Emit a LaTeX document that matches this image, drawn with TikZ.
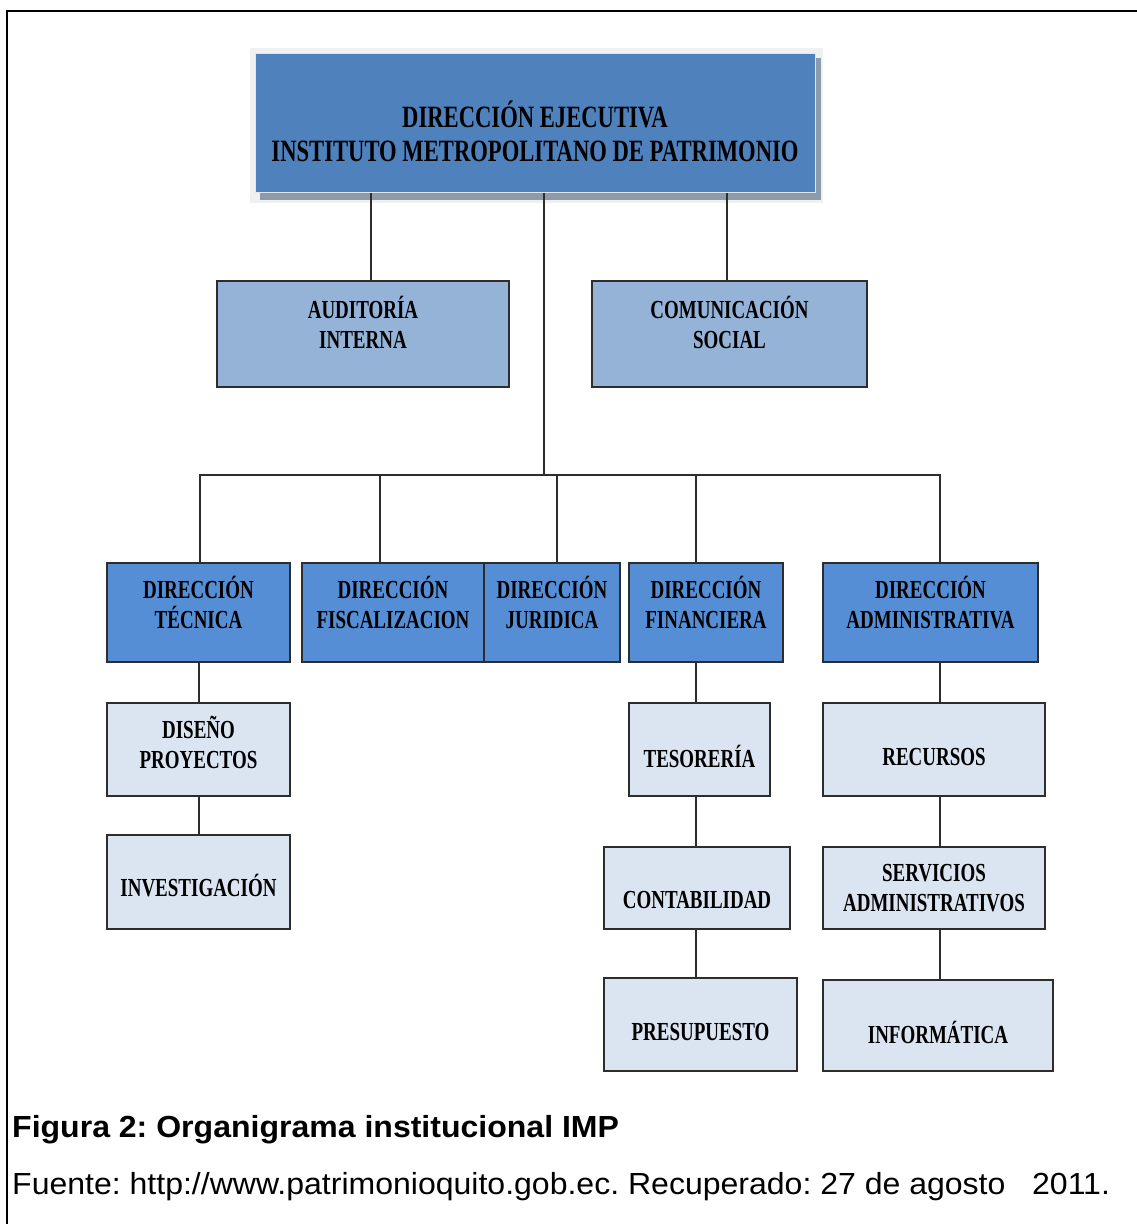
\documentclass[tikz,border=0pt]{standalone}
\usepackage{xcolor}
\usepackage{fontspec}
\usepackage{tikz}
\usetikzlibrary {backgrounds,positioning}
\newfontfamily\boxfont[FakeStretch=0.73]{Liberation Serif}
\newfontfamily\capfont[FakeStretch=1.05]{Liberation Sans}
\definecolor{topblue}{RGB}{79,129,189}
\definecolor{dirblue}{RGB}{85,142,213}
\definecolor{staffblue}{RGB}{149,179,215}
\definecolor{unitblue}{RGB}{219,229,241}
\definecolor{edgegray}{RGB}{45,45,45}
\definecolor{shadowgray}{RGB}{140,155,170}
\newcommand\lift[1]{\rule[-#1pt]{0pt}{0pt}}
\newcommand\sink[1]{\rule{0pt}{#1pt}}

\tikzset{
  orgbox/.style = {draw=edgegray, line width=1.3pt, align=center, inner sep=0pt,
                   font=\boxfont\bfseries\fontsize{26}{30}\selectfont},
  headbox/.style = {fill=topblue, draw=white!80!gray, line width=1pt, align=center,
                    minimum width=560pt, minimum height=139pt,
                    font=\boxfont\bfseries\fontsize{31}{34}\selectfont},
  staffbox/.style = {orgbox, fill=staffblue, minimum height=106pt},
  dirbox/.style = {orgbox, fill=dirblue, minimum height=99pt},
  unitbox/.style = {orgbox, fill=unitblue},
  link/.style = {draw=edgegray, line width=1.3pt},
  captext/.style = {anchor=base west, inner sep=0pt, font=\capfont\frenchspacing\fontsize{30.5}{33}\selectfont}
}

\begin{document}
\begin{tikzpicture}[x=1pt, y=-1pt]
\useasboundingbox (0,0) rectangle (1137,1224);

% frame
\coordinate (fl) at (7,1224);
\coordinate (fc) at (7,11);
\coordinate (fr) at (1137,11);
\draw[line width=1.5pt] (fl) -- (fc) -- (fr);

% head
\node (head) at (535,122.5) [headbox]{\sink{44}DIRECCIÓN EJECUTIVA\\INSTITUTO METROPOLITANO DE PATRIMONIO};
\begin{scope}[on background layer]
  \fill[black!6] ([shift={(-5,-5)}]head.north west) rectangle ([shift={(7,10)}]head.south east);
  \fill[shadowgray] ([shift={(5,0)}]head.south west) rectangle ([shift={(5,7)}]head.south east);
  \fill[shadowgray] ([shift={(0,5)}]head.north east) rectangle ([shift={(5,7)}]head.south east);
\end{scope}

% staff
\node (aud) at (363,334) [staffbox, minimum width=292pt]{AUDITORÍA\\INTERNA\lift{24}};
\node (com) at (729.5,334) [staffbox, minimum width=275pt]{COMUNICACIÓN\\SOCIAL\lift{24}};

% direcciones
\node (tec) at (198.5,612.5) [dirbox, minimum width=183pt]{DIRECCIÓN\\TÉCNICA\lift{20}};
\node (fis) at (393,612.5) [dirbox, minimum width=182pt]{DIRECCIÓN\\FISCALIZACION\lift{20}};
\node (jur) at (552,612.5) [dirbox, minimum width=136pt]{DIRECCIÓN\\JURIDICA\lift{20}};
\node (fin) at (706,612.5) [dirbox, minimum width=154pt]{DIRECCIÓN\\FINANCIERA\lift{20}};
\node (adm) at (930.5,612.5) [dirbox, minimum width=215pt]{DIRECCIÓN\\ADMINISTRATIVA\lift{20}};

% unidades
\node (dis) at (198.5,749.5) [unitbox, minimum width=183pt, minimum height=93pt]{DISEÑO\\PROYECTOS\lift{14}};
\node (inv) at (198.5,882) [unitbox, minimum width=183pt, minimum height=94pt]{\sink{30}INVESTIGACIÓN};
\node (tes) at (699.5,749.5) [unitbox, minimum width=141pt, minimum height=93pt]{\sink{36}TESORERÍA};
\node (con) at (697,888) [unitbox, minimum width=186pt, minimum height=82pt]{\sink{42}CONTABILIDAD};
\node (pre) at (700.5,1024.5) [unitbox, minimum width=193pt, minimum height=93pt]{\sink{32}PRESUPUESTO};
\node (rec) at (934,749.5) [unitbox, minimum width=222pt, minimum height=93pt]{\sink{32}RECURSOS};
\node (ser) at (934,888) [unitbox, minimum width=222pt, minimum height=82pt]{SERVICIOS\\ADMINISTRATIVOS};
\node (inf) at (938,1025.5) [unitbox, minimum width=230pt, minimum height=91pt]{\sink{36}INFORMÁTICA};

% connectors
\coordinate (bus) at (544,475);
\coordinate (colT) at (199,0);
\coordinate (colF) at (696,0);
\coordinate (colA) at (940,0);
\draw[link] (head.south -| bus) -- (bus);
\draw[link] ([xshift=8pt]aud.north) -- ([xshift=8pt]aud.north |- head.south);
\draw[link] ([xshift=-2.5pt]com.north) -- ([xshift=-2.5pt]com.north |- head.south);
\draw[link] ([xshift=1.5pt]tec.north) |- (bus);
\draw[link] ([xshift=-13pt]fis.north) |- (bus);
\draw[link] ([xshift=5pt]jur.north) |- (bus);
\draw[link] ([xshift=-10pt]fin.north) |- (bus);
\draw[link] ([xshift=9.5pt]adm.north) |- (bus);
\draw[link] (tec.south -| colT) -- (dis.north -| colT);
\draw[link] (dis.south -| colT) -- (inv.north -| colT);
\draw[link] (fin.south -| colF) -- (tes.north -| colF);
\draw[link] (tes.south -| colF) -- (con.north -| colF);
\draw[link] (con.south -| colF) -- (pre.north -| colF);
\draw[link] (adm.south -| colA) -- (rec.north -| colA);
\draw[link] (rec.south -| colA) -- (ser.north -| colA);
\draw[link] (ser.south -| colA) -- (inf.north -| colA);

% caption
\node (cap) at (12,1137) [captext]{\bfseries Figura 2: Organigrama institucional IMP};
\node (src) at (12,1194) [captext]{Fuente: http://www.patrimonioquito.gob.ec. Recuperado: 27 de agosto\ \ \ 2011.};

\end{tikzpicture}
\end{document}
